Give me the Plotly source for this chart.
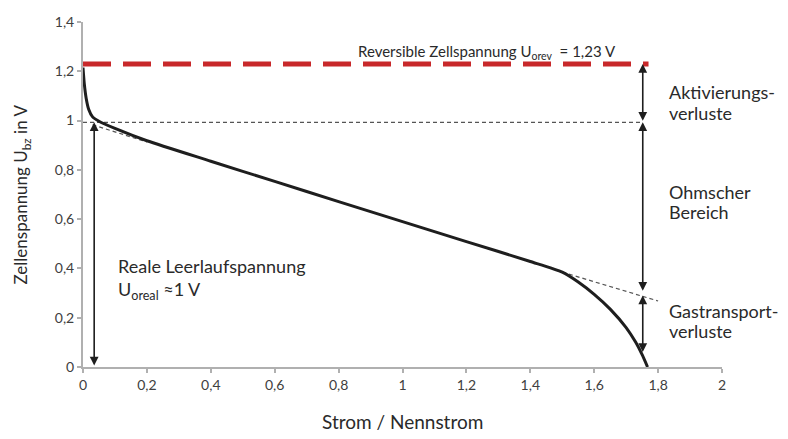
import plotly.graph_objects as go

# Polarisation curve (Strom / Nennstrom vs. Zellenspannung)
strom = [0.0, 0.004, 0.01, 0.018, 0.03, 0.05, 0.1, 0.2, 0.4, 0.6, 0.8, 1.0, 1.2, 1.4, 1.5,
         1.55, 1.6, 1.65, 1.7, 1.73, 1.75, 1.767]
spannung = [1.215, 1.15, 1.09, 1.045, 1.015, 0.997, 0.968, 0.918, 0.835, 0.753, 0.671, 0.59,
            0.509, 0.428, 0.385, 0.345, 0.295, 0.235, 0.16, 0.1, 0.05, 0.0]

# reference levels
u_rev = 1.23
u_real = 0.993
x_level_end = 1.77

# tangent (ohmic) extension lines
tan_left_x = [0.03, 0.2]
tan_left_y = [0.983, 0.913]
tan_right_x = [1.5, 1.80]
tan_right_y = [0.385, 0.268]

# arrow positions
arrow_left_x = 0.035
arrow_right_x = 1.752
ohm_low = 0.303
gas_high = 0.29
gas_low = 0.055

x_ticks = [0, 0.2, 0.4, 0.6, 0.8, 1.0, 1.2, 1.4, 1.6, 1.8, 2.0]
y_ticks = [0, 0.2, 0.4, 0.6, 0.8, 1.0, 1.2, 1.4]

FONT = "Lato"
fig = go.Figure()

fig.add_trace(go.Scatter(x=[0, x_level_end], y=[u_rev, u_rev], mode="lines",
                         line=dict(color="#c8282a", width=5, dash="28px,12px"),
                         hoverinfo="skip", showlegend=False))
fig.add_trace(go.Scatter(x=[0, arrow_right_x], y=[u_real, u_real], mode="lines",
                         line=dict(color="#555555", width=1.2, dash="4px,3px"),
                         hoverinfo="skip", showlegend=False))
fig.add_trace(go.Scatter(x=tan_left_x, y=tan_left_y, mode="lines",
                         line=dict(color="#555555", width=1.2, dash="4px,3px"),
                         hoverinfo="skip", showlegend=False))
fig.add_trace(go.Scatter(x=tan_right_x, y=tan_right_y, mode="lines",
                         line=dict(color="#555555", width=1.2, dash="4px,3px"),
                         hoverinfo="skip", showlegend=False))
fig.add_trace(go.Scatter(x=strom, y=spannung, mode="lines",
                         line=dict(color="#1e1e1e", width=3, shape="spline", smoothing=0.6),
                         hoverinfo="skip", showlegend=False))

def darrow(x, y0, y1):
    fig.add_annotation(x=x, y=y1, ax=x, ay=y0, xref="x", yref="y", axref="x", ayref="y",
                       showarrow=True, arrowhead=2, arrowside="end+start", arrowsize=1.1,
                       arrowwidth=1.6, arrowcolor="#1e1e1e", text="", standoff=0, startstandoff=0)

darrow(arrow_left_x, 0.0, u_real)
darrow(arrow_right_x, u_real, u_rev)
darrow(arrow_right_x, ohm_low, u_real)
darrow(arrow_right_x, gas_low, gas_high)

tfont = dict(family=FONT, size=18, color="#2a2a2a")

def label(x, y, text, font=tfont, xanchor="left"):
    fig.add_annotation(x=x, y=y, xref="x", yref="y", showarrow=False, xanchor=xanchor,
                       yanchor="middle", align="left", text=text, font=font, borderpad=0)

label(1.264, 1.278, "Reversible Zellspannung U<sub>orev</sub>  = 1,23 V",
      font=dict(family=FONT, size=15, color="#2a2a2a"), xanchor="center")
label(1.83, 1.116, "Aktivierungs-")
label(1.83, 1.030, "verluste")
label(1.83, 0.712, "Ohmscher")
label(1.83, 0.627, "Bereich")
label(1.83, 0.228, "Gastransport-")
label(1.83, 0.145, "verluste")
label(0.105, 0.408, "Reale Leerlaufspannung")
label(0.105, 0.31, "U<sub>oreal</sub> ≈1 V")

# axis titles (placed in paper coordinates)
fig.add_annotation(x=0.5, y=-0.159, xref="paper", yref="paper", showarrow=False,
                   xanchor="center", yanchor="middle", text="Strom / Nennstrom",
                   font=dict(family=FONT, size=19, color="#2a2a2a"))
fig.add_annotation(x=-0.0955, y=0.5, xref="paper", yref="paper", showarrow=False,
                   xanchor="center", yanchor="middle", textangle=-90,
                   text="Zellenspannung U<sub>bz</sub> in V",
                   font=dict(family=FONT, size=17, color="#2a2a2a"))

axis_common = dict(showgrid=False, zeroline=False, showline=True, linecolor="#b0b0b0",
                   linewidth=2, ticks="outside", ticklen=4, tickcolor="#b0b0b0", tickwidth=1.5,
                   automargin=False,
                   tickfont=dict(family=FONT, size=14, color="#404040"))

def fmt(v):
    return ("%g" % v).replace(".", ",")

fig.update_xaxes(range=[0, 2], tickvals=x_ticks, ticktext=[fmt(v) for v in x_ticks], **axis_common)
fig.update_yaxes(range=[0, 1.4], tickvals=y_ticks, ticktext=[fmt(v) for v in y_ticks], **axis_common)

fig.update_layout(width=788, height=439, margin=dict(l=83, r=66, t=22, b=72),
                  plot_bgcolor="white", paper_bgcolor="white", font=dict(family=FONT))

fig.write_html("out.html")
